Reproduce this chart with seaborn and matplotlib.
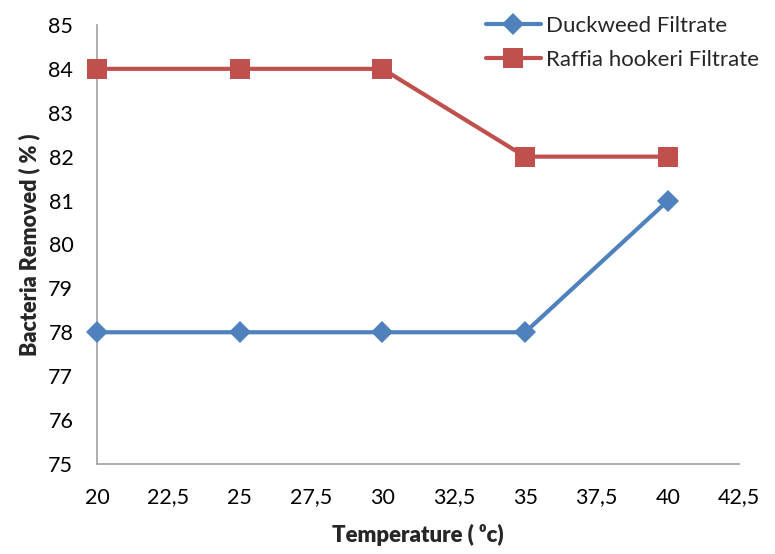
import pandas as pd
import matplotlib
matplotlib.use("Agg")
import matplotlib.pyplot as plt
import seaborn as sns

# --- data ---
temperature = [20, 25, 30, 35, 40]
duckweed = [78, 78, 78, 78, 81]
raffia = [84, 84, 84, 82, 82]
x_ticks = [20, 22.5, 25, 27.5, 30, 32.5, 35, 37.5, 40, 42.5]
y_ticks = [75, 76, 77, 78, 79, 80, 81, 82, 83, 84, 85]

df = pd.concat([
    pd.DataFrame({'Temperature': temperature, 'Removed': duckweed, 'Series': 'Duckweed Filtrate'}),
    pd.DataFrame({'Temperature': temperature, 'Removed': raffia, 'Series': 'Raffia hookeri Filtrate'}),
], ignore_index=True)

sns.set_style("white")
plt.rcParams['font.family'] = ['Lato', 'DejaVu Sans']

fig = plt.figure(figsize=(7.75, 5.54), dpi=100)
ax = fig.add_axes([0.125, 0.1625, 0.829, 0.7925])

palette = {'Duckweed Filtrate': '#4F81BD', 'Raffia hookeri Filtrate': '#C0504D'}
markers = {'Duckweed Filtrate': 'D', 'Raffia hookeri Filtrate': 's'}
sizes = {'Duckweed Filtrate': 11, 'Raffia hookeri Filtrate': 14}

for name, grp in df.groupby('Series', sort=False):
    sns.lineplot(data=grp, x='Temperature', y='Removed', color=palette[name],
                 marker=markers[name], markersize=sizes[name], markeredgewidth=0,
                 linewidth=3, label=name, ax=ax, errorbar=None)
for line in ax.lines:
    line.set_clip_on(False)
    line.set_zorder(3)

ax.set_xlim(20, 42.5)
ax.set_ylim(75, 85)
ax.set_xticks(x_ticks)
ax.set_xticklabels([f'{t:g}'.replace('.', ',') for t in x_ticks])
ax.set_yticks(y_ticks)
ax.tick_params(axis='both', length=0, labelsize=15.5, colors='black')
ax.tick_params(axis='x', pad=17)
ax.tick_params(axis='y', pad=17)

for s in ['top', 'right']:
    ax.spines[s].set_visible(False)
for s in ['left', 'bottom']:
    ax.spines[s].set_color('#a0a0a0')
    ax.spines[s].set_linewidth(1.2)

ax.set_xlabel('Temperature ( \u2070c)', fontsize=16, fontweight='heavy', labelpad=12)
ax.set_ylabel('Bacteria Removed ( % )', fontsize=15.5, fontweight='heavy', labelpad=6)

leg = ax.legend(loc='upper left', bbox_to_anchor=(470 / 775, 1.0), bbox_transform=fig.transFigure,
                frameon=False, fontsize=16, handlelength=2.5, handletextpad=0.2,
                labelspacing=0.65, borderaxespad=0.3)
for line in leg.get_lines():
    line.set_linewidth(3)

fig.savefig('out.png', dpi=100)
